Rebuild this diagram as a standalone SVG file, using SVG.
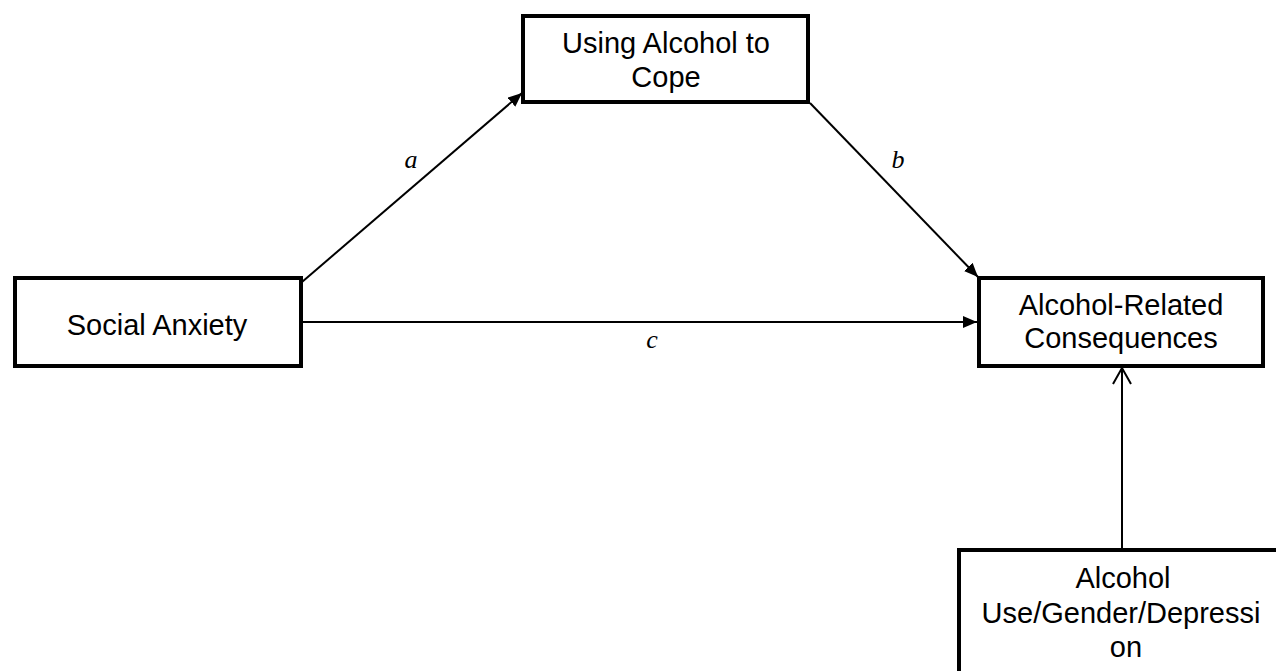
<svg xmlns="http://www.w3.org/2000/svg" width="1276" height="671" viewBox="0 0 1276 671">
  <style>
    .box { fill: #ffffff; stroke: #000000; stroke-width: 4; }
    .label { font-family: "Liberation Sans", Arial, sans-serif; font-size: 29px; fill: #000000; text-anchor: middle; }
    .path-label { font-family: "Liberation Serif", "Times New Roman", serif; font-style: italic; font-size: 26px; fill: #000000; text-anchor: middle; }
    .edge { stroke: #000000; stroke-width: 2; fill: none; }
  </style>
  <defs>
    <marker id="arrow-solid" markerUnits="userSpaceOnUse" markerWidth="16" markerHeight="14" refX="14" refY="6" orient="auto">
      <path d="M0,0 L14,6 L0,12 Z" fill="#000000"/>
    </marker>
    <marker id="arrow-open" markerUnits="userSpaceOnUse" markerWidth="20" markerHeight="24" refX="17" refY="10" orient="auto">
      <path d="M1,1 L17,10 L1,19" fill="none" stroke="#000000" stroke-width="2"/>
    </marker>
  </defs>

  <rect width="1276" height="671" fill="#ffffff"/>

  <g id="connectors">
    <line class="edge" x1="302" y1="282" x2="522" y2="93" marker-end="url(#arrow-solid)"/>
    <line class="edge" x1="810" y1="103" x2="978" y2="277" marker-end="url(#arrow-solid)"/>
    <line class="edge" x1="303" y1="322" x2="977" y2="322" marker-end="url(#arrow-solid)"/>
    <line class="edge" x1="1122" y1="548" x2="1122" y2="368" marker-end="url(#arrow-open)"/>
    <text class="path-label" x="411" y="168">a</text>
    <text class="path-label" x="898" y="168">b</text>
    <text class="path-label" x="652" y="348">c</text>
  </g>

  <g id="node-coping">
    <rect class="box" x="523" y="16" width="285" height="86"/>
    <text class="label" x="666" y="53">Using Alcohol to</text>
    <text class="label" x="666" y="87">Cope</text>
  </g>

  <g id="node-social-anxiety">
    <rect class="box" x="15" y="278" width="286" height="88"/>
    <text class="label" x="157" y="335">Social Anxiety</text>
  </g>

  <g id="node-consequences">
    <rect class="box" x="979" y="278" width="284" height="88"/>
    <text class="label" x="1121" y="315">Alcohol-Related</text>
    <text class="label" x="1121" y="348">Consequences</text>
  </g>

  <g id="node-covariates">
    <rect class="box" x="959" y="550" width="330" height="140"/>
    <text class="label" x="1123" y="588">Alcohol</text>
    <text class="label" x="1121" y="623">Use/Gender/Depressi</text>
    <text class="label" x="1126" y="657">on</text>
  </g>
</svg>
